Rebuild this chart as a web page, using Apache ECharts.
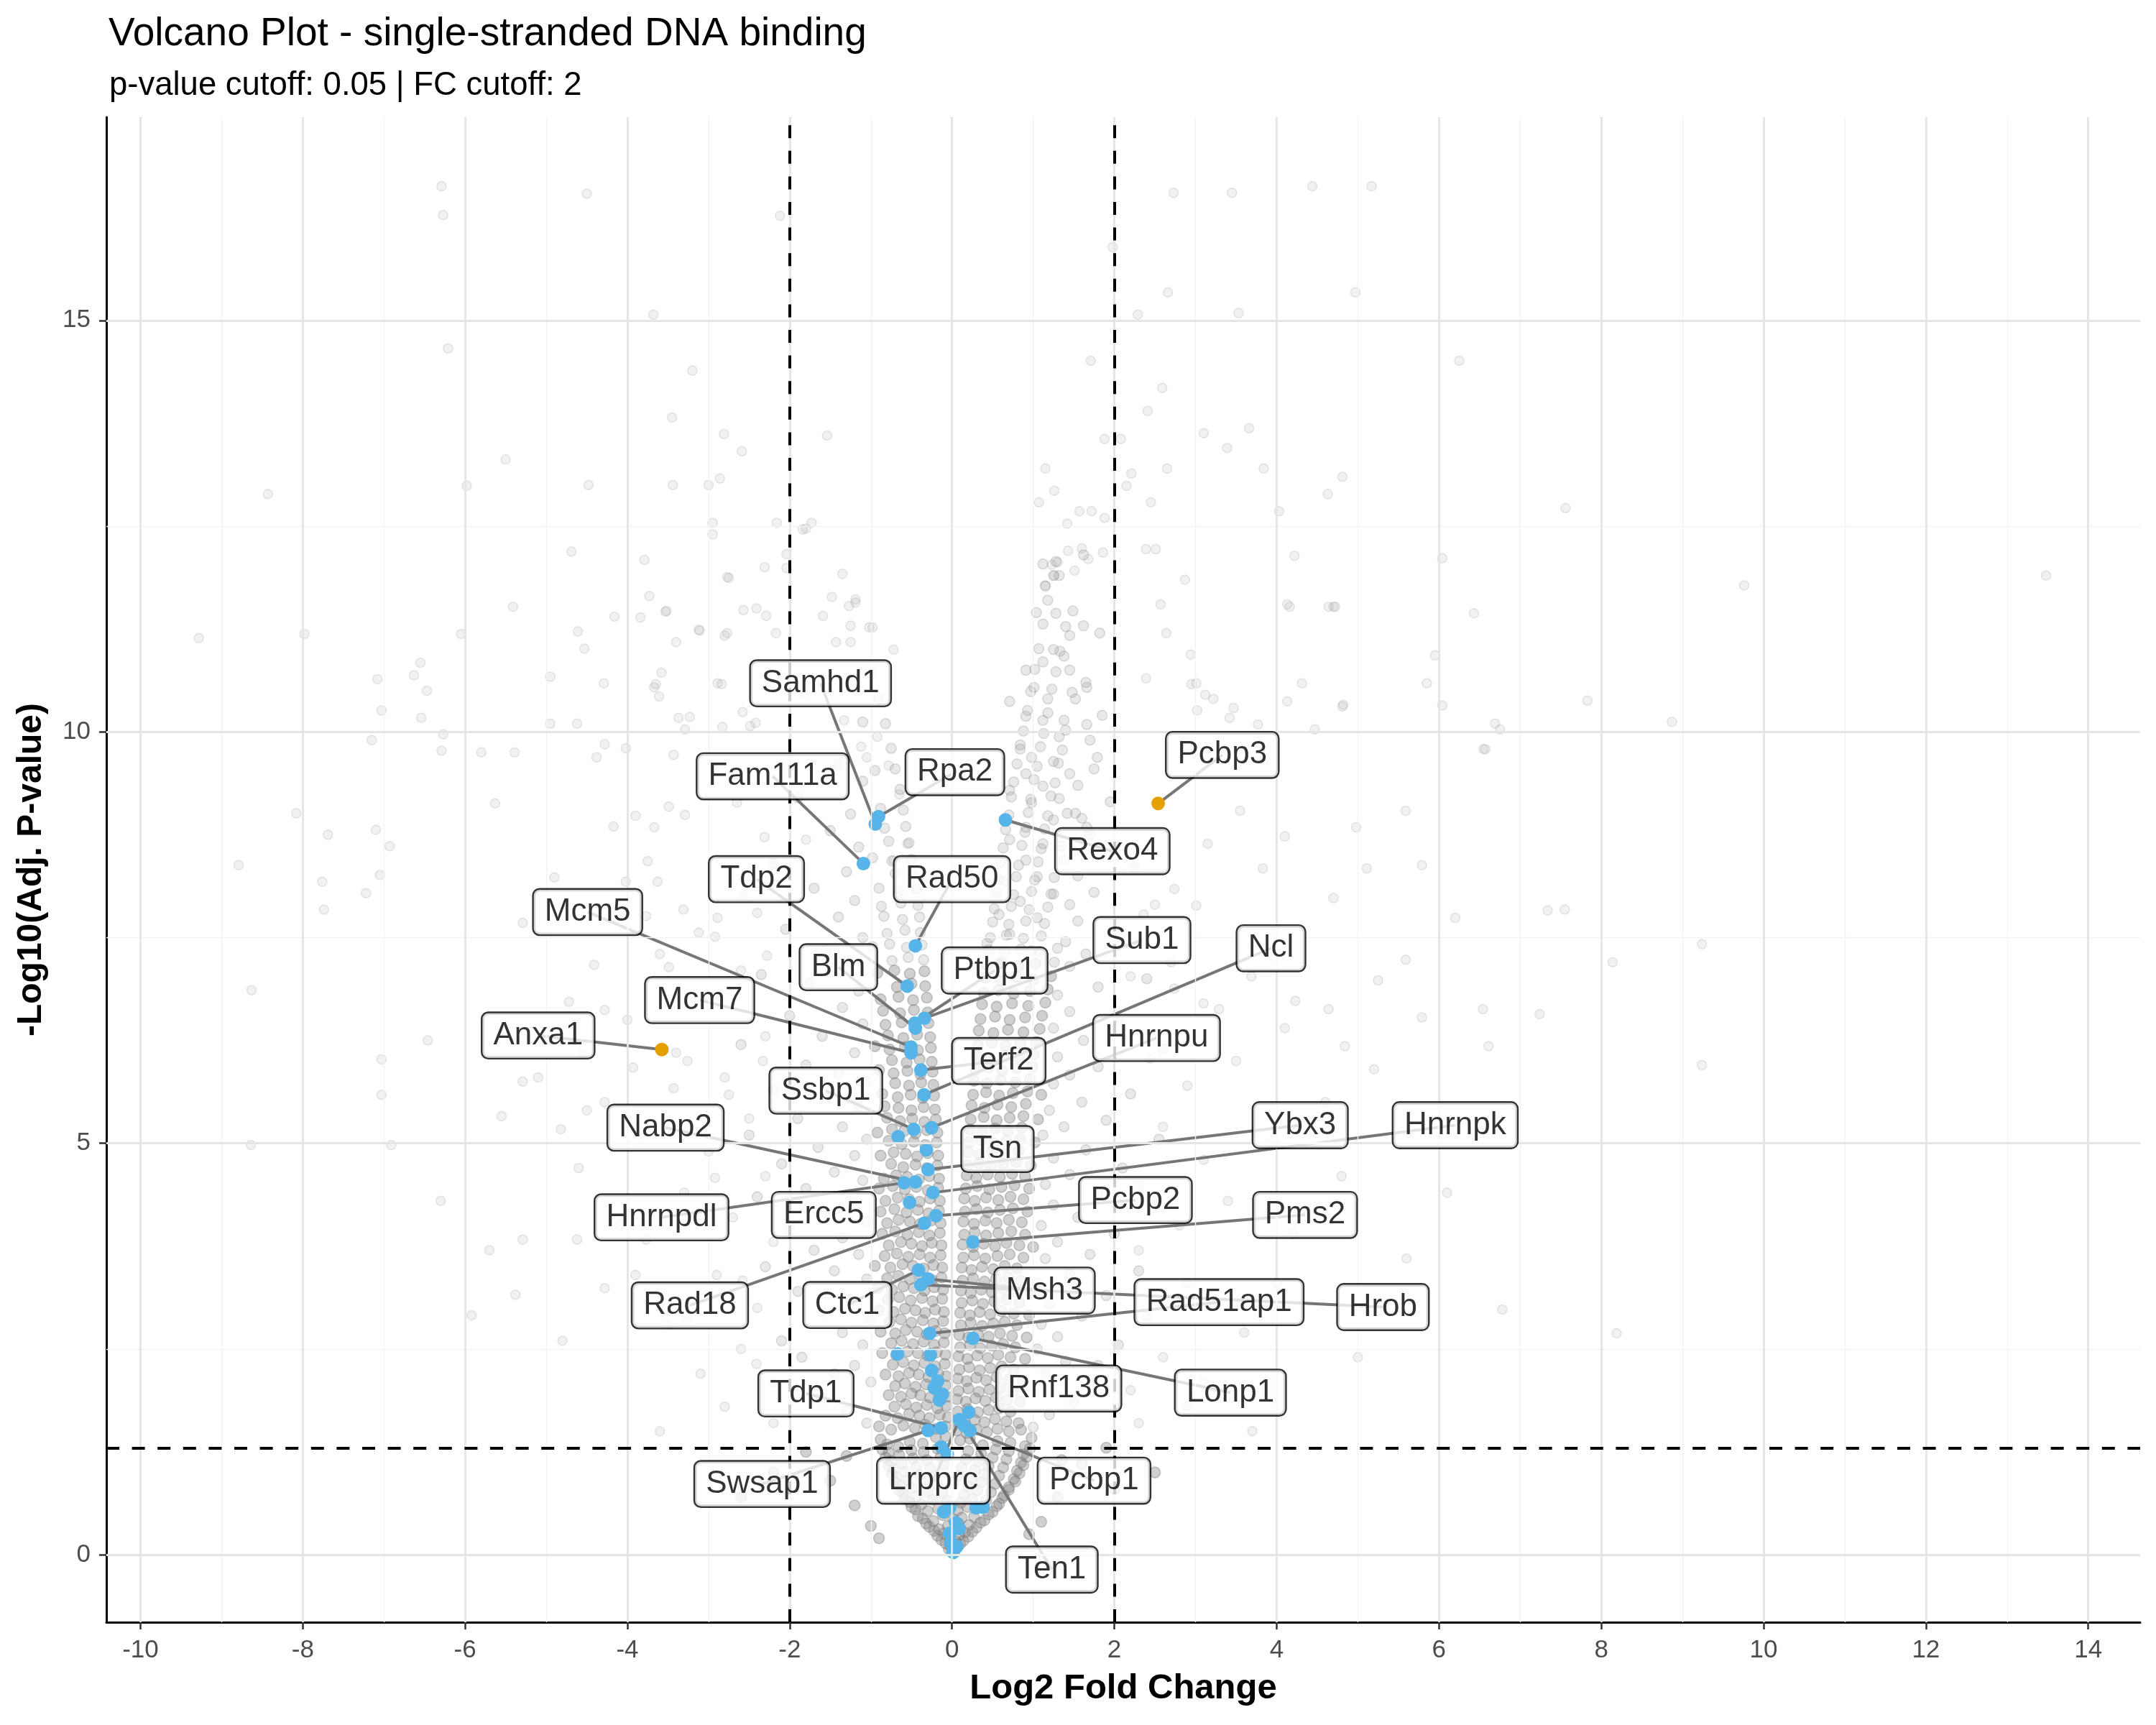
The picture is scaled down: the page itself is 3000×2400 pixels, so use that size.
<!DOCTYPE html>
<html>
<head>
<meta charset="utf-8">
<script src="https://cdn.jsdelivr.net/npm/echarts@6/dist/echarts.min.js"></script>
<style>
html,body{margin:0;padding:0;background:#ffffff;}
#chart{width:3000px;height:2400px;}
</style>
</head>
<body>
<div id="chart"></div>
<script>
// ---------------- DATA ----------------
const titleText = 'Volcano Plot - single-stranded DNA binding';
const subtitleText = 'p-value cutoff: 0.05 | FC cutoff: 2';
const xAxisTitle = 'Log2 Fold Change';
const yAxisTitle = '-Log10(Adj. P-value)';

const xTicks = [-10,-8,-6,-4,-2,0,2,4,6,8,10,12,14];
const xMinor = [-9,-7,-5,-3,-1,1,3,5,7,9,11,13];
const yTicks = [0,5,10,15];
const yMinor = [2.5,7.5,12.5];

const fcCutoffs = [-2, 2];
const pCutoff = 0.05;

// labelled genes: point (log2FC, -log10 p) and label box centre
const labelGenes = ['Samhd1','Rpa2','Fam111a','Rexo4','Pcbp3','Tdp2','Rad50','Mcm5','Sub1','Ncl','Blm','Ptbp1','Mcm7','Anxa1','Hnrnpu','Terf2','Ssbp1','Nabp2','Ybx3','Hnrnpk','Tsn','Pcbp2','Hnrnpdl','Ercc5','Pms2','Rad18','Ctc1','Msh3','Rad51ap1','Hrob','Rnf138','Lonp1','Tdp1','Swsap1','Lrpprc','Ten1','Pcbp1'];
const labelFC = [-0.945,-0.906,-1.092,0.658,2.54,-0.552,-0.452,-0.505,-0.34,-0.345,-0.452,-0.458,-0.505,-3.576,-0.251,-0.384,-0.472,-0.452,-0.295,-0.236,-0.316,-0.198,-0.59,-0.523,0.257,-0.34,-0.413,-0.295,-0.275,-0.384,0.207,0.257,-0.133,-0.295,0.089,0.148,0.221];
const labelP = [8.88,8.97,8.40,8.93,9.13,6.91,7.40,6.17,6.52,5.59,6.40,6.46,6.10,6.14,5.19,5.89,5.17,4.53,4.68,4.40,4.92,4.12,4.52,4.28,3.80,4.03,3.46,3.35,2.69,3.28,1.73,2.63,1.54,1.51,1.64,1.57,1.51];
const boxFC = [-1.62,0.035,-2.21,1.975,3.33,-2.41,0.0,-4.49,2.34,3.93,-1.40,0.525,-3.11,-5.10,2.52,0.576,-1.555,-3.53,4.29,6.20,0.56,2.26,-3.58,-1.58,4.35,-3.23,-1.29,1.14,3.29,5.31,1.315,3.43,-1.80,-2.34,-0.23,1.23,1.75];
const boxP = [10.59,9.51,9.46,8.55,9.72,8.21,8.21,7.81,7.47,7.37,7.14,7.10,6.74,6.31,6.28,6.0,5.64,5.19,5.22,5.22,4.93,4.31,4.10,4.13,4.13,3.03,3.035,3.21,3.07,3.01,2.02,1.97,1.96,0.86,0.90,-0.18,0.90];
const upGenesHighlighted = ['Pcbp3','Anxa1'];
const noSegment = ['Tsn','Ercc5','Rnf138'];

// other single-stranded DNA binding genes (unlabelled)
const otherBlueFC = [-0.664,-0.67,-0.266,-0.251,-0.177,-0.221,-0.118,-0.157,-0.133,-0.059,-0.103,-0.029,0.295,0.383,0.044,0.089,-0.029,-0.015,0.059,0.015];
const otherBlueP  = [5.08,2.44,2.43,2.24,2.11,2.03,1.95,1.88,1.31,1.22,0.52,0.57,0.57,0.58,0.39,0.32,0.26,0.14,0.10,0.03];

// background genes: bottom of the volcano
const grayBase = [[0.0,0.03],[0.03,0.06],[-0.04,0.07],[0.06,0.09],[-0.02,0.1],[0.1,0.13],[-0.08,0.14],[0.14,0.17],[-0.13,0.18],[0.05,0.16],[-0.03,0.19],[0.2,0.22],[-0.18,0.23],[0.09,0.24],[-0.1,0.26],[0.25,0.28],[-0.22,0.29],[0.16,0.27],[0.3,0.33],[-0.28,0.34],[0.21,0.36],[-0.16,0.31],[0.08,0.38],[-0.05,0.35],[0.35,0.39],[-0.32,0.38],[0.4,0.42],[-0.36,0.44],[0.27,0.46],[-0.23,0.41],[0.12,0.45],[-0.11,0.48],[0.45,0.49],[-0.42,0.47],[0.02,0.43],[0.5,0.52],[-0.45,0.55],[0.33,0.57],[-0.3,0.53],[0.19,0.58],[-0.17,0.56],[0.55,0.59],[-0.5,0.58],[0.07,0.54],[0.58,0.62],[-0.52,0.64],[0.42,0.66],[-0.38,0.61],[0.25,0.68],[-0.24,0.67],[0.62,0.69],[-0.58,0.68],[0.11,0.63],[-0.06,0.65],[0.64,0.72],[-0.6,0.74],[0.48,0.76],[-0.44,0.71],[0.31,0.78],[-0.3,0.77],[0.7,0.79],[-0.65,0.78],[0.15,0.73],[-0.12,0.75],[0.7,0.82],[-0.64,0.84],[0.53,0.86],[-0.5,0.81],[0.36,0.88],[-0.35,0.87],[0.78,0.89],[-0.7,0.88],[0.2,0.83],[-0.18,0.85],[0.02,0.87],[0.76,0.92],[-0.68,0.94],[0.58,0.96],[-0.55,0.91],[0.4,0.98],[-0.4,0.97],[0.83,0.99],[-0.74,0.98],[0.24,0.93],[-0.22,0.95],[0.08,0.96],[0.8,1.02],[-0.72,1.04],[0.63,1.06],[-0.58,1.01],[0.45,1.08],[-0.44,1.07],[0.88,1.09],[-0.78,1.08],[0.28,1.03],[-0.27,1.05],[0.12,1.06],[-0.1,1.09],[0.85,1.12],[-0.75,1.14],[0.67,1.16],[-0.62,1.11],[0.5,1.18],[-0.48,1.17],[0.92,1.19],[-0.82,1.18],[0.32,1.13],[-0.31,1.15],[0.17,1.16],[-0.14,1.19],[0.88,1.22],[-0.78,1.24],[0.7,1.26],[-0.65,1.21],[0.54,1.28],[-0.5,1.27],[0.96,1.29],[-0.86,1.28],[0.36,1.23],[-0.35,1.25],[0.2,1.26],[-0.18,1.29],[0.9,1.32],[-0.8,1.34],[0.72,1.36],[-0.66,1.31],[0.56,1.38],[-0.52,1.37],[0.98,1.42],[-0.88,1.4],[0.38,1.33],[-0.36,1.35],[0.22,1.41],[-0.2,1.43],[0.1,1.39],[-0.08,1.44],
[-1.2,0.6],[-1.5,0.9],[1.3,0.7],[1.6,1.1],[-2.2,1.0],[2.0,0.8],[-1.0,0.35],[1.1,0.4],[-1.8,1.25],[1.9,1.3],[-1.3,1.2],[1.35,1.15],[-2.6,0.7],[2.5,1.0],[-0.9,0.2],[0.95,0.25]];

// background genes: left arm of the volcano
const grayLeftArm = [[-0.08,1.56],[-0.2,1.53],[-0.33,1.58],[-0.46,1.54],[-0.6,1.57],[-0.75,1.52],[-0.9,1.56],[-0.05,1.67],[-0.15,1.7],[-0.28,1.66],[-0.4,1.69],[-0.53,1.71],[-0.67,1.66],[-0.82,1.69],[-0.07,1.81],[-0.18,1.78],[-0.31,1.82],[-0.44,1.79],[-0.57,1.83],[-0.71,1.8],[-0.06,1.92],[-0.16,1.95],[-0.27,1.91],[-0.39,1.94],[-0.5,1.96],[-0.63,1.92],[-0.78,1.94],[-0.08,2.06],[-0.2,2.03],[-0.32,2.07],[-0.45,2.04],[-0.58,2.08],[-0.7,2.05],[-0.07,2.17],[-0.17,2.2],[-0.29,2.16],[-0.41,2.19],[-0.53,2.21],[-0.66,2.17],[-0.82,2.19],[-0.09,2.32],[-0.21,2.29],[-0.34,2.33],[-0.47,2.3],[-0.6,2.34],[-0.73,2.31],[-0.08,2.43],[-0.19,2.46],[-0.3,2.42],[-0.42,2.45],[-0.55,2.47],[-0.69,2.43],[-0.86,2.45],[-0.1,2.58],[-0.22,2.55],[-0.35,2.59],[-0.48,2.56],[-0.62,2.6],[-0.75,2.57],[-0.09,2.69],[-0.2,2.72],[-0.31,2.68],[-0.43,2.71],[-0.57,2.73],[-0.7,2.69],[-0.88,2.71],[-0.11,2.84],[-0.23,2.81],[-0.36,2.85],[-0.5,2.82],[-0.63,2.86],[-0.77,2.83],[-0.1,2.95],[-0.21,2.98],[-0.33,2.94],[-0.45,2.97],[-0.58,2.99],[-0.72,2.95],[-0.9,2.97],[-0.12,3.11],[-0.24,3.08],[-0.37,3.12],[-0.51,3.09],[-0.65,3.13],[-0.79,3.1],[-0.11,3.22],[-0.22,3.25],[-0.34,3.21],[-0.47,3.24],[-0.6,3.26],[-0.74,3.22],[-0.92,3.24],[-0.13,3.37],[-0.25,3.34],[-0.38,3.38],[-0.52,3.35],[-0.66,3.39],[-0.8,3.36],[-0.12,3.49],[-0.23,3.52],[-0.35,3.48],[-0.48,3.51],[-0.61,3.53],[-0.76,3.49],[-0.95,3.51],[-0.14,3.64],[-0.27,3.61],[-0.4,3.65],[-0.54,3.62],[-0.68,3.66],[-0.83,3.63],[-0.13,3.76],[-0.25,3.79],[-0.37,3.75],[-0.5,3.78],[-0.63,3.8],[-0.78,3.76],[-0.15,3.91],[-0.28,3.88],[-0.41,3.92],[-0.55,3.89],[-0.7,3.93],[-0.86,3.9],[-0.14,4.03],[-0.26,4.06],[-0.39,4.02],[-0.52,4.05],[-0.66,4.07],[-0.8,4.03],[-0.16,4.18],[-0.29,4.15],[-0.42,4.19],[-0.56,4.16],[-0.71,4.2],[-0.88,4.17],[-0.15,4.3],[-0.27,4.33],[-0.4,4.29],[-0.53,4.32],[-0.67,4.34],[-0.82,4.3],[-0.17,4.46],[-0.3,4.43],[-0.44,4.47],[-0.58,4.44],[-0.73,4.48],[-0.9,4.45],[-0.16,4.57],[-0.28,4.6],[-0.41,4.56],[-0.55,4.59],[-0.69,4.61],[-0.84,4.57],[-0.18,4.73],[-0.31,4.7],[-0.45,4.74],[-0.6,4.71],[-0.75,4.75],[-0.17,4.85],[-0.3,4.88],[-0.43,4.84],[-0.57,4.87],[-0.72,4.89],[-0.88,4.85],[-0.19,5.01],[-0.33,4.98],[-0.47,5.02],[-0.62,4.99],[-0.78,5.03],[-0.18,5.13],[-0.31,5.16],[-0.45,5.12],[-0.59,5.15],[-0.74,5.17],[-0.92,5.13],[-0.2,5.29],[-0.34,5.26],[-0.49,5.3],[-0.64,5.27],[-0.8,5.31],[-0.21,5.41],[-0.35,5.44],[-0.5,5.4],[-0.66,5.43],[-0.83,5.45],[-0.22,5.58],[-0.36,5.55],[-0.51,5.59],[-0.67,5.56],[-0.86,5.6],[-0.23,5.71],[-0.38,5.74],[-0.53,5.7],[-0.7,5.73],[-0.24,5.87],[-0.39,5.84],[-0.55,5.88],[-0.72,5.85],[-0.9,5.89],[-0.25,5.99],[-0.4,6.02],[-0.56,5.98],[-0.74,6.01],[-0.26,6.16],[-0.42,6.13],[-0.58,6.17],[-0.77,6.14],[-0.95,6.18],[-0.27,6.29],[-0.43,6.32],[-0.6,6.28],[-0.79,6.31],[-0.29,6.46],[-0.45,6.43],[-0.62,6.47],[-0.82,6.44],[-0.3,6.59],[-0.47,6.62],[-0.64,6.58],[-0.85,6.61],[-0.31,6.77],[-0.48,6.74],[-0.66,6.78],[-0.88,6.75],[-0.33,6.91],[-0.5,6.94],[-0.68,6.9],[-0.34,7.09],[-0.52,7.06],[-0.71,7.1],[-0.92,7.07],[-0.35,7.23],[-0.54,7.26],[-0.74,7.22],[-0.37,7.41],[-0.56,7.38],[-0.77,7.42],[-0.98,7.39],[-0.39,7.56],[-0.58,7.59],[-0.8,7.55],[-0.4,7.75],[-0.61,7.72],[-0.84,7.76],[-0.42,7.89],[-0.63,7.92],[-0.87,7.88],[-0.44,8.09],[-0.66,8.06],[-0.9,8.1],[-0.47,8.26],[-0.7,8.28],[-0.5,8.45],[-0.74,8.43],[-0.98,8.47],[-0.53,8.65],[-0.78,8.67],[-0.57,8.85],[-0.83,8.83],[-0.6,9.05],[-0.88,9.07],[-0.64,9.3],[-0.7,9.55],[-0.95,9.53],[-0.75,9.8],[-0.82,10.1],[-1.1,10.12],[-0.9,10.4],[-1.0,10.7]];

// background genes: right arm of the volcano
const grayRightArm = [[0.06,1.51],[0.18,1.48],[0.3,1.52],[0.43,1.49],[0.56,1.53],[0.7,1.5],[0.85,1.52],[0.05,1.63],[0.16,1.6],[0.28,1.64],[0.4,1.61],[0.53,1.65],[0.67,1.62],[0.82,1.6],[0.07,1.74],[0.19,1.77],[0.32,1.73],[0.45,1.76],[0.58,1.78],[0.72,1.74],[0.06,1.89],[0.17,1.86],[0.29,1.9],[0.41,1.87],[0.54,1.91],[0.68,1.88],[0.84,1.86],[0.08,1.99],[0.2,2.02],[0.33,1.98],[0.46,2.01],[0.6,2.03],[0.75,1.99],[0.07,2.14],[0.18,2.11],[0.3,2.15],[0.42,2.12],[0.55,2.16],[0.7,2.13],[0.87,2.11],[0.09,2.25],[0.21,2.28],[0.34,2.24],[0.47,2.27],[0.61,2.29],[0.76,2.25],[0.08,2.41],[0.19,2.38],[0.31,2.42],[0.44,2.39],[0.57,2.43],[0.72,2.4],[0.9,2.38],[0.1,2.52],[0.22,2.55],[0.35,2.51],[0.49,2.54],[0.63,2.56],[0.78,2.52],[0.09,2.67],[0.2,2.64],[0.32,2.68],[0.45,2.65],[0.59,2.69],[0.74,2.66],[0.92,2.64],[0.11,2.79],[0.23,2.82],[0.37,2.78],[0.51,2.81],[0.65,2.83],[0.8,2.79],[0.1,2.94],[0.22,2.91],[0.34,2.95],[0.47,2.92],[0.61,2.96],[0.76,2.93],[0.95,2.91],[0.12,3.06],[0.25,3.09],[0.38,3.05],[0.52,3.08],[0.67,3.1],[0.83,3.06],[0.11,3.21],[0.23,3.18],[0.36,3.22],[0.49,3.19],[0.63,3.23],[0.78,3.2],[0.97,3.18],[0.13,3.33],[0.26,3.36],[0.4,3.32],[0.54,3.35],[0.69,3.37],[0.85,3.33],[0.12,3.49],[0.24,3.46],[0.37,3.5],[0.51,3.47],[0.65,3.51],[0.8,3.48],[0.14,3.61],[0.27,3.64],[0.41,3.6],[0.56,3.63],[0.71,3.65],[0.88,3.61],[0.13,3.77],[0.26,3.74],[0.39,3.78],[0.53,3.75],[0.67,3.79],[0.83,3.76],[1.0,3.74],[0.15,3.89],[0.28,3.92],[0.42,3.88],[0.57,3.91],[0.73,3.93],[0.9,3.89],[0.14,4.05],[0.27,4.02],[0.41,4.06],[0.55,4.03],[0.7,4.07],[0.86,4.04],[0.16,4.17],[0.3,4.2],[0.44,4.16],[0.59,4.19],[0.75,4.21],[0.93,4.17],[0.15,4.33],[0.28,4.3],[0.42,4.34],[0.57,4.31],[0.72,4.35],[0.88,4.32],[0.17,4.45],[0.31,4.48],[0.46,4.44],[0.61,4.47],[0.77,4.49],[0.95,4.45],[0.18,4.61],[0.3,4.58],[0.44,4.62],[0.59,4.59],[0.74,4.63],[0.9,4.6],[0.19,4.73],[0.33,4.76],[0.48,4.72],[0.63,4.75],[0.79,4.77],[0.97,4.73],[0.2,4.89],[0.34,4.86],[0.49,4.9],[0.65,4.87],[0.82,4.91],[0.21,5.01],[0.36,5.04],[0.51,5.0],[0.67,5.03],[0.84,5.05],[1.02,5.01],[0.22,5.17],[0.37,5.14],[0.53,5.18],[0.69,5.15],[0.86,5.19],[0.23,5.29],[0.39,5.32],[0.55,5.28],[0.71,5.31],[0.88,5.33],[1.06,5.29],[0.24,5.46],[0.4,5.43],[0.56,5.47],[0.73,5.44],[0.91,5.48],[0.26,5.59],[0.42,5.62],[0.58,5.58],[0.75,5.61],[0.93,5.63],[1.1,5.59],[0.27,5.76],[0.43,5.73],[0.6,5.77],[0.78,5.74],[0.96,5.78],[0.29,5.89],[0.45,5.92],[0.62,5.88],[0.8,5.91],[0.99,5.93],[0.3,6.06],[0.47,6.03],[0.64,6.07],[0.82,6.04],[1.01,6.08],[0.32,6.19],[0.49,6.22],[0.66,6.18],[0.84,6.21],[1.04,6.23],[0.33,6.37],[0.51,6.34],[0.69,6.38],[0.88,6.35],[1.08,6.39],[0.35,6.51],[0.53,6.54],[0.71,6.5],[0.9,6.53],[1.11,6.55],[0.37,6.69],[0.55,6.66],[0.74,6.7],[0.94,6.67],[1.15,6.71],[0.39,6.83],[0.57,6.86],[0.76,6.82],[0.96,6.85],[1.18,6.87],[0.41,7.01],[0.6,6.98],[0.8,7.02],[1.0,6.99],[1.22,7.03],[0.43,7.16],[0.62,7.19],[0.82,7.15],[1.03,7.18],[1.26,7.2],[0.45,7.35],[0.65,7.32],[0.85,7.36],[1.07,7.33],[1.3,7.37],[0.47,7.5],[0.67,7.53],[0.88,7.49],[1.1,7.52],[0.5,7.69],[0.7,7.66],[0.91,7.7],[1.14,7.67],[0.52,7.85],[0.73,7.88],[0.95,7.84],[1.18,7.87],[0.55,8.05],[0.76,8.02],[0.98,8.06],[1.22,8.03],[0.57,8.21],[0.79,8.24],[1.02,8.2],[1.26,8.23],[0.6,8.41],[0.82,8.38],[1.06,8.42],[0.63,8.59],[0.86,8.62],[1.1,8.58],[1.34,8.61],[0.66,8.81],[0.9,8.78],[1.14,8.82],[0.7,8.99],[0.94,9.02],[1.18,8.98],[1.42,9.01],[0.73,9.21],[0.97,9.18],[1.22,9.22],[0.76,9.39],[1.01,9.42],[1.27,9.38],[0.8,9.61],[1.05,9.58],[1.31,9.62],[0.84,9.79],[1.09,9.82],[1.36,9.78],[0.88,10.01],[1.13,9.98],[1.4,10.02],[0.93,10.26],[1.18,10.23],[0.97,10.49],[1.23,10.52],[1.48,10.48],[1.02,10.76],[1.28,10.73],[1.07,11.01],[1.33,10.98],[1.12,11.31],[1.4,11.28],[1.18,11.6],[1.25,11.9],
[1.12,12.04],[1.28,12.07],[1.62,12.15],[1.32,11.9],[1.15,11.77],[1.04,11.45],[1.28,11.44],[1.49,11.47],[1.62,11.29],[1.45,11.17],[1.82,11.2],[1.25,11.0],[1.38,10.92],[1.12,10.85],[1.45,10.75],[0.91,10.75],[1.66,10.54],[1.01,10.54],[1.18,10.4],[1.52,10.4],[0.71,10.37],[0.91,10.19],[1.12,10.14],[1.38,10.14],[1.66,10.09],[1.32,9.94],[0.84,9.84],[0.98,9.69],[1.79,9.69],[1.25,9.64],[1.45,9.49],[0.91,9.49],[1.12,9.34],[0.71,9.29],[1.32,9.19],[0.98,9.14],[1.52,9.01],[1.25,8.93],[0.91,8.84],[1.66,8.84],[0.71,8.69],[1.12,8.64],[0.91,8.44],[1.38,8.44],[1.05,8.24],[0.64,8.19],[1.25,8.03],[0.84,7.94],[0.58,7.78],[1.05,7.74],[0.71,7.54],[0.43,7.43],[0.98,7.34],[0.58,7.18]];

// background genes: halo around the arms
const grayHalo = [[-1.05,1.6],[-1.3,1.75],[-1.6,1.9],[-1.0,2.1],[-1.2,2.3],[-1.45,2.2],[-1.85,2.4],[-1.1,2.55],[-1.35,2.7],[-2.1,2.6],[-1.0,2.85],[-1.6,2.95],[-1.25,3.1],[-1.9,3.2],[-1.05,3.35],[-1.45,3.45],[-2.3,3.5],[-1.15,3.65],[-1.7,3.7],[-1.35,3.85],[-2.0,3.95],[-1.05,4.05],[-1.55,4.15],[-1.25,4.3],[-2.4,4.35],[-1.8,4.45],[-1.1,4.55],[-1.45,4.65],[-2.1,4.75],[-1.2,4.85],[-1.65,4.95],[-1.05,5.05],[-2.5,5.1],[-1.35,5.2],[-1.9,5.3],[-1.15,5.45],[-1.55,5.55],[-2.2,5.65],[-1.05,5.75],[-1.4,5.85],[-1.8,5.95],[-1.2,6.1],[-2.6,6.2],[-1.6,6.3],[-1.1,6.45],[-2.0,6.55],[-1.35,6.65],[-1.15,6.85],[-1.75,6.95],[-2.35,7.05],[-1.25,7.2],[-1.55,7.35],[-1.1,7.5],[-2.05,7.6],[-1.4,7.75],[-1.2,7.95],[-1.7,8.1],[-1.3,8.3],[-2.2,8.4],[-1.15,8.6],[-1.5,8.8],[-1.25,9.0],[-1.9,9.2],[-1.1,9.4],[-1.4,9.6],
[1.0,1.55],[1.2,1.7],[1.5,1.85],[0.95,2.05],[1.15,2.2],[1.4,2.35],[1.8,2.3],[1.05,2.5],[1.3,2.65],[2.05,2.55],[1.1,2.8],[1.6,2.9],[1.2,3.05],[1.9,3.15],[1.05,3.3],[1.45,3.4],[2.3,3.45],[1.15,3.6],[1.7,3.65],[1.3,3.8],[2.0,3.9],[1.1,4.0],[1.55,4.1],[1.25,4.25],[2.45,4.3],[1.8,4.4],[1.15,4.5],[1.45,4.62],[2.1,4.7],[1.25,4.82],[1.65,4.92],[1.12,5.1],[2.55,5.05],[1.38,5.2],[1.9,5.28],[1.2,5.4],[1.6,5.5],[2.2,5.6],[1.25,5.72],[1.45,5.83],[1.8,5.93],[1.3,6.05],[2.6,6.15],[1.62,6.25],[1.25,6.4],[2.05,6.5],[1.45,6.6],[1.3,6.8],[1.8,6.9],[2.4,7.0],[1.45,7.15],[1.65,7.3],[1.4,7.45],[2.1,7.55],[1.55,7.7],[1.45,7.9],[1.75,8.05],[1.55,8.25],[2.25,8.35],[1.5,8.55],[1.7,8.75],[1.6,8.95],[1.95,9.15],[1.55,9.35],[1.75,9.55],[1.7,9.9],[1.85,10.2],[1.65,10.6]];

// background genes: scattered outliers
const graySparse = [[-6.29,16.63],[-6.27,16.28],[-4.5,16.54],[-2.12,16.27],[2.73,16.55],[3.45,16.55],[4.44,16.63],[5.17,16.63],[1.98,15.89],[2.66,15.34],[4.97,15.34],[-3.68,15.07],[2.29,15.07],[3.53,15.09],[-6.21,14.66],[-3.2,14.39],[1.71,14.51],[6.25,14.51],[2.59,14.18],[2.41,13.9],[-3.45,13.82],[-2.81,13.62],[-1.54,13.6],[-2.59,13.41],[-5.5,13.31],[1.88,13.56],[2.08,13.56],[3.1,13.63],[3.66,13.69],[3.39,13.45],[1.15,13.2],[2.65,13.2],[3.84,13.2],[4.81,13.1],[-8.43,12.89],[-4.48,13.0],[-3.44,13.0],[-3.0,13.0],[-2.86,13.08],[1.26,12.93],[1.07,12.79],[2.21,13.14],[2.15,12.99],[2.45,12.79],[4.63,12.89],[7.56,12.72],[4.03,12.68],[1.57,12.68],[1.72,12.68],[1.88,12.6],[1.42,12.53],[-2.95,12.54],[-2.95,12.4],[-2.16,12.54],[-1.73,12.54],[-1.84,12.46],[-4.69,12.19],[-2.04,12.16],[1.43,12.2],[1.6,12.23],[1.68,12.1],[1.3,12.06],[1.23,12.03],[1.86,12.18],[2.39,12.22],[2.51,12.22],[4.22,12.14],[13.48,11.9],[9.76,11.78],[-2.77,11.88],[-1.35,11.92],[-2.04,11.99],[1.15,11.78],[1.26,11.9],[1.51,11.96],[2.87,11.85],[4.16,11.52],[4.64,11.52],[4.72,11.52],[6.43,11.44],[-9.28,11.14],[-7.98,11.19],[-6.05,11.19],[-4.16,11.4],[-3.84,11.39],[-3.73,11.65],[-3.52,11.47],[-3.12,11.24],[-2.41,11.5],[-2.57,11.48],[-1.59,11.41],[-1.19,11.61],[-1.27,11.53],[-4.61,11.22],[-4.53,11.01],[-3.4,11.09],[-2.77,11.2],[-1.25,11.29],[-1.02,11.27],[-1.25,11.09],[-7.08,10.64],[-6.47,10.5],[-6.55,10.84],[-7.03,10.26],[-4.29,10.59],[-3.65,10.58],[-3.61,10.43],[-2.84,10.58],[5.95,10.93],[5.85,10.59],[6.04,10.32],[7.83,10.38],[8.87,10.12],[4.13,10.37],[4.82,10.33],[3.02,10.26],[3.47,10.29],[3.42,10.17],[2.95,10.58],[3.22,10.4],[3.77,10.09],[4.47,10.03],[6.75,10.03],[6.55,9.79],[-6.29,9.77],[-4.95,10.1],[-4.02,9.8],[-3.37,10.17],[-3.29,10.03],[-2.83,10.06],[-2.49,10.07],[-2.42,10.11],[-4.38,9.69],
[2.57,11.55],[2.64,11.2],[2.94,10.94],[2.39,10.65],[3.01,10.59],[3.12,10.45],[4.13,11.55],[4.31,10.59],[4.7,11.52],[4.81,10.31],[6.57,9.79],[5.59,9.04],[4.98,8.84],[4.1,8.73],[3.55,9.04],[3.15,8.64],[2.74,8.09],[2.36,7.78],[3.01,7.89],[3.83,8.34],[4.7,7.98],[5.11,8.34],[5.79,8.38],[6.2,7.74],[5.59,7.23],[5.25,6.98],[4.64,6.63],[5.79,6.53],[6.54,6.63],[4.84,6.18],[4.23,6.73],[3.69,7.03],[2.74,6.88],[3.29,6.63],[2.2,7.03],[2.44,6.03],[6.61,6.18],
[-1.8,12.47],[-2.31,12.0],[-2.75,11.87],[-1.19,11.57],[-1.48,11.64],[-2.29,11.41],[-3.11,11.23],[-3.53,11.46],[-2.8,11.17],[-2.17,11.2],[-0.98,11.27],[-0.72,11.0],[-1.43,11.09],[-3.67,10.54],[-2.89,10.59],[-2.58,10.24],[-1.83,10.45],[-1.33,10.14],[-1.12,9.82],[-0.92,9.94],[-1.05,9.69],[-0.78,9.59],[-0.65,9.24],[-0.55,8.64],[-0.72,8.44],[-3.49,9.09],[-3.29,8.99],[-2.65,9.14],[-2.31,8.72],[-1.8,8.69],[-3.67,8.84],[-2.89,7.74],[-2.28,7.28],[-3.12,7.56],[-3.49,7.14],
[-3.79,12.09],[-5.98,12.99],[-6.27,9.97],[-6.63,10.69],[-7.15,9.9],[-6.93,8.61],[-5.8,9.75],[-5.39,9.75],[-5.63,9.13],[-6.54,10.17],[-7.1,8.81],[-7.05,8.26],[-7.22,8.04],[-7.69,8.75],[-7.76,8.18],[-8.08,9.01],[-7.74,7.84],[-8.79,8.38],[-8.63,6.86],[-8.64,4.98],[-7.03,5.59],[-7.03,6.02],[-6.91,4.98],[-5.92,2.91],[-5.38,3.16],[-6.46,6.25],[-4.9,8.23],[-5.29,7.68],[-4.72,6.72],[-4.55,6.09],[-4.28,6.62],[-4.41,7.17],[-4.02,8.18],[-4.17,8.85],[-3.9,8.98],[-3.75,8.43],[-3.63,8.18],[-3.43,9.72],[-3.23,10.18],[-3.58,10.72],[-4.28,9.85],[-4.62,10.1],[-5.41,11.52],[-4.95,10.67],[-3.77,7.76],[-3.31,7.84],[-2.92,7.51],[-2.58,8.01],[-5.55,5.33],[-5.29,5.75],[-4.82,5.17],[-4.28,5.5],[-3.93,5.92],[-3.43,5.67],[-3.26,6.0],[-2.75,5.59],[-2.33,6.0],[-2.92,4.58],[-3.77,3.83],[-4.62,3.83],[-4.28,3.24],[-5.29,3.83],[-2.58,3.33],[-3.26,2.83],[-2.41,2.32],
[9.24,7.42],[9.24,5.95],[7.34,7.83],[7.55,7.84],[7.24,6.57],[6.04,12.11],[6.69,10.1],[6.78,2.98],[8.19,2.69],[8.14,7.2],
[-2.2,2.1],[-2.6,2.5],[-3.1,2.2],[-2.4,3.0],[-2.9,3.4],[-3.5,2.8],[-2.2,3.8],[-2.7,4.1],[-3.3,4.4],[-4.1,4.0],[-2.3,4.6],[-3.0,4.9],[-3.8,5.1],[-2.5,5.3],[-4.5,5.4],[-2.8,5.8],[-3.4,6.1],[-2.3,6.3],[-4.0,6.5],[-3.0,6.8],[-2.6,7.1],[-4.6,4.7],[-5.1,5.8],[-3.6,7.3],[-2.4,7.8],[-3.9,3.4],[-4.8,2.6],[-2.2,1.6],[-2.8,1.8],[-3.6,1.5],
[2.2,2.0],[2.6,2.4],[3.1,2.1],[2.4,2.9],[2.9,3.3],[3.6,2.7],[2.3,3.7],[2.8,4.0],[3.4,4.3],[4.2,3.9],[2.3,4.5],[3.1,4.8],[3.9,5.0],[2.6,5.2],[4.6,5.5],[2.9,5.7],[3.5,6.0],[2.4,6.3],[4.1,6.4],[3.1,6.7],[2.7,7.2],[4.8,4.6],[5.2,5.9],[3.7,7.4],[2.5,7.9],[4.0,3.3],[5.0,2.4],[2.3,1.6],[2.9,1.8],[3.7,1.5],[5.6,3.6],[6.1,4.4],[-5.7,3.7],[-6.3,4.3]];

// ---------------- STYLE ----------------
const FONT = '"Liberation Sans", Arial, Helvetica, sans-serif';
const BLUE = '#56B4E9';
const ORANGE = '#E69F00';
const DENSE_LIMIT = 7.2;   // above this height the arms thin out and are drawn lighter

// ---------------- BUILD ----------------
const armPoints = [].concat(grayBase, grayLeftArm, grayRightArm);
const grayCoreData = armPoints.filter(p => p[1] < DENSE_LIMIT);
const grayUpperData = armPoints.filter(p => p[1] >= DENSE_LIMIT).concat(grayHalo);

const blueData = [], orangeData = [], boxData = [], segData = [];
labelGenes.forEach((g, i) => {
  const pt = [labelFC[i], labelP[i]];
  if (upGenesHighlighted.indexOf(g) >= 0) orangeData.push({name: g, value: pt});
  else blueData.push({name: g, value: pt});
  boxData.push({name: g, value: [boxFC[i], boxP[i]]});
  if (noSegment.indexOf(g) < 0) segData.push({coords: [pt, [boxFC[i], boxP[i]]]});
});
otherBlueFC.forEach((x, i) => blueData.push({value: [x, otherBlueP[i]]}));

const gridLines = [];
xMinor.forEach(v => gridLines.push({xAxis: v, lineStyle: {color: '#f2f2f2', width: 1.4, type: 'solid'}}));
yMinor.forEach(v => gridLines.push({yAxis: v, lineStyle: {color: '#f2f2f2', width: 1.4, type: 'solid'}}));
xTicks.forEach(v => gridLines.push({xAxis: v, lineStyle: {color: '#e5e5e5', width: 2.8, type: 'solid'}}));
yTicks.forEach(v => gridLines.push({yAxis: v, lineStyle: {color: '#e5e5e5', width: 2.8, type: 'solid'}}));

const cutLines = [];
fcCutoffs.forEach(v => cutLines.push({xAxis: v}));
cutLines.push({yAxis: -Math.log10(pCutoff)});

const chart = echarts.init(document.getElementById('chart'), null, {renderer: 'canvas'});
chart.setOption({
  animation: false,
  backgroundColor: '#ffffff',
  title: [
    {text: titleText, left: 146, top: 15, textStyle: {fontSize: 55, fontWeight: 'normal', color: '#000', fontFamily: FONT}},
    {text: subtitleText, left: 147, top: 91, textStyle: {fontSize: 45.5, fontWeight: 'normal', color: '#000', fontFamily: FONT}}
  ],
  grid: {left: 148, right: 22, top: 163, bottom: 143, containLabel: false, outerBoundsMode: 'none'},
  xAxis: {
    type: 'value', min: -10.42, max: 14.64,
    name: xAxisTitle, nameLocation: 'middle', nameGap: 68,
    nameTextStyle: {fontSize: 49, fontWeight: 'bold', color: '#000', fontFamily: FONT},
    axisLine: {show: true, onZero: false, lineStyle: {color: '#000', width: 3}},
    axisTick: {show: true, length: 10, customValues: xTicks, lineStyle: {color: '#333', width: 2.5}},
    axisLabel: {show: true, customValues: xTicks, fontSize: 35, color: '#4d4d4d', margin: 22, fontFamily: FONT},
    splitLine: {show: false}, minorSplitLine: {show: false}
  },
  yAxis: {
    type: 'value', min: -0.82, max: 17.47,
    name: yAxisTitle, nameLocation: 'middle', nameGap: 80, nameRotate: 90,
    nameTextStyle: {fontSize: 48, fontWeight: 'bold', color: '#000', fontFamily: FONT},
    axisLine: {show: true, onZero: false, lineStyle: {color: '#000', width: 3}},
    axisTick: {show: true, length: 10, customValues: yTicks, lineStyle: {color: '#333', width: 2.5}},
    axisLabel: {show: true, customValues: yTicks, fontSize: 35, color: '#4d4d4d', margin: 22, fontFamily: FONT},
    splitLine: {show: false}
  },
  series: [
    {
      type: 'scatter', name: 'grid', data: [], z: 0, silent: true,
      markLine: {silent: true, symbol: ['none', 'none'], label: {show: false}, animation: false, data: gridLines}
    },
    {
      type: 'scatter', name: 'background sparse', data: graySparse, z: 1, silent: true,
      symbol: 'circle', symbolSize: 13,
      itemStyle: {color: 'rgba(150,150,150,0.16)', borderColor: 'rgba(150,150,150,0.28)', borderWidth: 1.6}
    },
    {
      type: 'scatter', name: 'background upper', data: grayUpperData, z: 1, silent: true,
      symbol: 'circle', symbolSize: 14,
      itemStyle: {color: 'rgba(140,140,140,0.24)', borderColor: 'rgba(140,140,140,0.34)', borderWidth: 1.6}
    },
    {
      type: 'scatter', name: 'background core', data: grayCoreData, z: 1, silent: true,
      symbol: 'circle', symbolSize: 15,
      itemStyle: {color: 'rgba(125,125,125,0.45)', borderColor: 'rgba(125,125,125,0.5)', borderWidth: 1.6}
    },
    {
      type: 'scatter', name: 'cutoffs', data: [], z: 2, silent: true,
      markLine: {silent: true, symbol: ['none', 'none'], label: {show: false}, animation: false,
        lineStyle: {color: '#000', width: 4, type: [18, 17.6]}, data: cutLines}
    },
    {
      type: 'lines', name: 'segments', coordinateSystem: 'cartesian2d', z: 3, silent: true,
      lineStyle: {color: '#767676', width: 4, opacity: 1, curveness: 0},
      data: segData
    },
    {
      type: 'scatter', name: 'ssDNA binding', data: blueData, z: 4, silent: true,
      symbol: 'circle', symbolSize: 19, itemStyle: {color: BLUE, opacity: 1}
    },
    {
      type: 'scatter', name: 'highlight', data: orangeData, z: 4, silent: true,
      symbol: 'circle', symbolSize: 19, itemStyle: {color: ORANGE, opacity: 1}
    },
    {
      type: 'scatter', name: 'labels', data: boxData, z: 10, silent: true,
      symbol: 'circle', symbolSize: 1, itemStyle: {color: 'rgba(255,255,255,0)'},
      label: {
        show: true, position: 'inside', formatter: '{b}',
        fontSize: 44, lineHeight: 48, color: '#000000', fontFamily: FONT,
        textBorderWidth: 0, textShadowBlur: 0,
        backgroundColor: '#ffffff', borderColor: '#000000', borderWidth: 2.4, borderRadius: 8,
        padding: [7, 15]
      },
      labelLayout: {hideOverlap: false}
    }
  ]
});
</script>
</body>
</html>
